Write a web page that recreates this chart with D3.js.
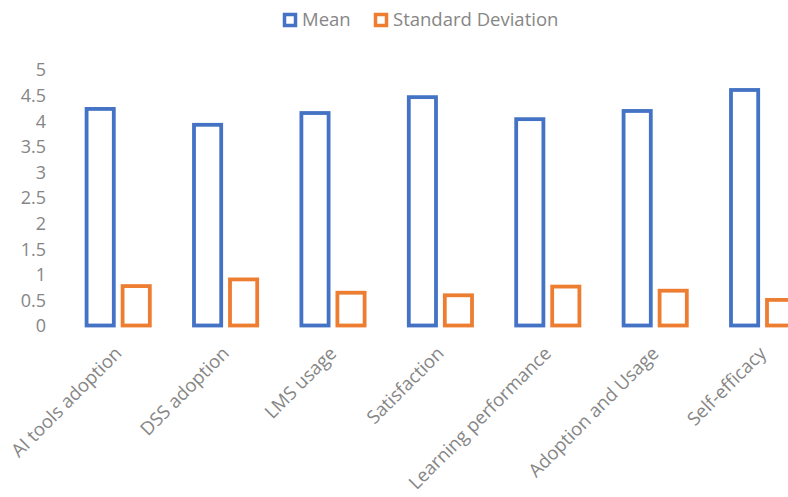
<!DOCTYPE html>
<html>
<head>
<meta charset="utf-8">
<script src="https://cdn.jsdelivr.net/npm/d3@7"></script>
<style>
  body { margin: 0; background: #fff; }
  svg { display: block; }
  text { font-family: "Open Sans", Lato, sans-serif; fill: #868686; }
</style>
</head>
<body>
<script>
// data
var categories = ["AI tools adoption", "DSS adoption", "LMS usage", "Satisfaction",
                  "Learning performance", "Adoption and Usage", "Self-efficacy"];
var meanValues = [4.23, 3.92, 4.15, 4.46, 4.03, 4.19, 4.60];
var sdValues   = [0.77, 0.90, 0.64, 0.59, 0.76, 0.68, 0.50];
var seriesNames = ["Mean", "Standard Deviation"];
var seriesColors = ["#4472C4", "#ED7D31"];
var yTicks = [0, 0.5, 1, 1.5, 2, 2.5, 3, 3.5, 4, 4.5, 5];

var W = 788, H = 497;
var sw = 3.8; // bar outline width

var svg = d3.select("body").append("svg")
    .attr("width", W)
    .attr("height", H);

// plot runs past the right edge, like the cropped original
var x0 = d3.scaleBand()
    .domain(categories)
    .range([64.5, 816.3])
    .paddingInner(0.376)
    .paddingOuter(0.188);

var x1 = d3.scaleBand()
    .domain(seriesNames)
    .range([0, x0.bandwidth()])
    .paddingInner(0.139);

var y = d3.scaleLinear()
    .domain([0, 5])
    .range([325.5, 69.5]);

// y axis labels only, no line or ticks
var yAxis = svg.append("g")
    .attr("transform", "translate(46,0)")
    .call(d3.axisLeft(y).tickValues(yTicks).tickSize(0).tickPadding(0)
        .tickFormat(function(d) { return String(d); }));
yAxis.select(".domain").remove();
yAxis.selectAll("text")
    .attr("fill", "#868686")
    .style("font-family", "'Open Sans', sans-serif")
    .style("font-size", "18px")
    .attr("dy", "0.35em");

var rows = categories.map(function(c, i) {
    return { cat: c, vals: [meanValues[i], sdValues[i]] };
});

var groups = svg.selectAll("g.cat")
    .data(rows)
    .enter().append("g")
    .attr("class", "cat")
    .attr("transform", function(d) { return "translate(" + x0(d.cat) + ",0)"; });

groups.selectAll("rect")
    .data(function(d) { return d.vals.map(function(v, j) { return { s: seriesNames[j], v: v, j: j }; }); })
    .enter().append("rect")
    .attr("x", function(d) { return x1(d.s) + sw / 2; })
    .attr("width", x1.bandwidth() - sw)
    .attr("y", function(d) { return y(d.v); })
    .attr("height", function(d) { return y(0) - y(d.v); })
    .attr("fill", "#fff")
    .attr("stroke", function(d) { return seriesColors[d.j]; })
    .attr("stroke-width", sw);

// rotated category labels
svg.append("g").selectAll("text")
    .data(categories)
    .enter().append("text")
    .attr("transform", function(d) {
        return "translate(" + (x0(d) + x0.bandwidth() / 2) + ",350) rotate(-45)";
    })
    .attr("text-anchor", "end")
    .attr("dy", "0.35em")
    .style("font-size", "18.5px")
    .text(function(d) { return d; });

// legend
var legendX = [283, 374];
var legend = svg.append("g").selectAll("g")
    .data(seriesNames)
    .enter().append("g")
    .attr("transform", function(d, i) { return "translate(" + legendX[i] + ",13)"; });

legend.append("rect")
    .attr("x", 1.5).attr("y", 1.5)
    .attr("width", 11).attr("height", 11)
    .attr("fill", "#fff")
    .attr("stroke", function(d, i) { return seriesColors[i]; })
    .attr("stroke-width", 3.5);

legend.append("text")
    .attr("x", 19)
    .attr("y", 7)
    .attr("dy", "0.35em")
    .style("font-size", "18.5px")
    .text(function(d) { return d; });
</script>
</body>
</html>
